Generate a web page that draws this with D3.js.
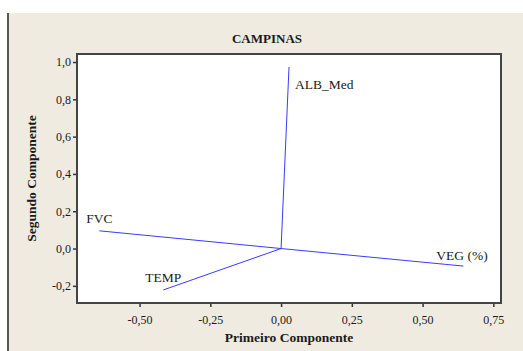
<!DOCTYPE html>
<html>
<head>
<meta charset="utf-8">
<script src="https://cdn.jsdelivr.net/npm/d3@7"></script>
<style>
  body { margin: 0; background: #fff; }
  svg text { font-family: "Liberation Serif", "Times New Roman", serif !important; fill: #1a1a1a; }
</style>
</head>
<body>
<svg id="chart" width="523" height="351"></svg>
<script>
// loadings for the first two components
var variables = ["ALB_Med", "FVC", "VEG (%)", "TEMP"];
var firstComp = [0.028, -0.642, 0.644, -0.416];
var secondComp = [0.973, 0.095, -0.094, -0.222];

var xTicks = [-0.5, -0.25, 0, 0.25, 0.5, 0.75];
var yTicks = [-0.2, 0, 0.2, 0.4, 0.6, 0.8, 1.0];

var svg = d3.select("#chart");
var margin = { top: 54, right: 22, bottom: 48, left: 77 };
var width = 523 - margin.left - margin.right;
var height = 351 - margin.top - margin.bottom;

// beige frame
svg.append("rect")
    .attr("x", 7).attr("y", 13)
    .attr("width", 516).attr("height", 338)
    .attr("fill", "#efebe1");
svg.append("line")
    .attr("x1", 8).attr("x2", 8)
    .attr("y1", 13).attr("y2", 351)
    .attr("stroke", "#555").attr("stroke-width", 2);

var x = d3.scaleLinear().domain([-0.721, 0.777]).range([0, width]);
var y = d3.scaleLinear().domain([-0.292, 1.043]).range([height, 0]);

var g = svg.append("g")
    .attr("transform", "translate(" + margin.left + "," + margin.top + ")");

g.append("rect")
    .attr("width", width).attr("height", height)
    .attr("fill", "#fff");

var fmt = function (digits) {
    return function (d) { return d3.format("." + digits + "f")(d).replace(".", ",").replace("−", "-"); };
};

var xAxis = g.append("g")
    .attr("transform", "translate(0," + height + ")")
    .call(d3.axisBottom(x).tickValues(xTicks).tickFormat(fmt(2)).tickSize(4).tickPadding(8));
var yAxis = g.append("g")
    .call(d3.axisLeft(y).tickValues(yTicks).tickFormat(fmt(1)).tickSize(4).tickPadding(2));

[xAxis, yAxis].forEach(function (a) {
    a.select(".domain").remove();
    a.selectAll("line").attr("stroke", "#333").attr("stroke-width", 1.5);
    a.selectAll("text").style("font-size", "12px").attr("fill", "#1a1a1a");
});

// plot border
g.append("rect")
    .attr("width", width).attr("height", height)
    .attr("fill", "none")
    .attr("stroke", "#444").attr("stroke-width", 2);

// vectors
g.selectAll(".vec")
    .data(variables)
    .enter()
    .append("line")
    .attr("class", "vec")
    .attr("x1", x(0)).attr("y1", y(0))
    .attr("x2", function (d, i) { return x(firstComp[i]); })
    .attr("y2", function (d, i) { return y(secondComp[i]); })
    .attr("stroke", "#3a3aff").attr("stroke-width", 1);

// label offsets relative to vector tips
var labelDx = [6, -13, -27, -18];
var labelDy = [22, -8, -6, -8];
g.selectAll(".lbl")
    .data(variables)
    .enter()
    .append("text")
    .attr("class", "lbl")
    .attr("x", function (d, i) { return x(firstComp[i]) + labelDx[i]; })
    .attr("y", function (d, i) { return y(secondComp[i]) + labelDy[i]; })
    .style("font-size", "13.5px")
    .text(function (d) { return d; });

svg.append("text")
    .attr("x", 267).attr("y", 43)
    .attr("text-anchor", "middle")
    .style("font-size", "13px").style("font-weight", "bold")
    .text("CAMPINAS");

svg.append("text")
    .attr("x", margin.left + width / 2).attr("y", 342)
    .attr("text-anchor", "middle")
    .style("font-size", "13.5px").style("font-weight", "bold")
    .text("Primeiro Componente");

svg.append("text")
    .attr("transform", "translate(36," + (margin.top + height / 2) + ") rotate(-90)")
    .attr("text-anchor", "middle")
    .style("font-size", "13.5px").style("font-weight", "bold")
    .text("Segundo Componente");
</script>
</body>
</html>
